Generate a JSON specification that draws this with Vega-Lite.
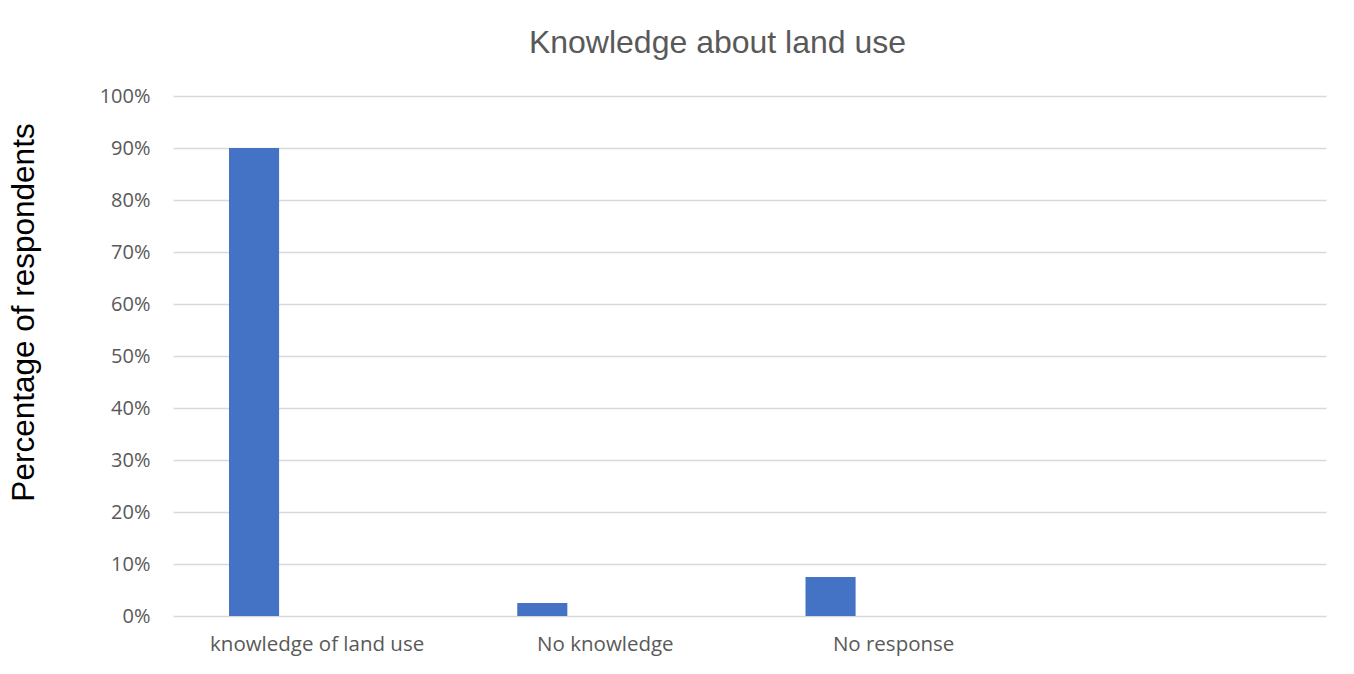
{
  "$schema": "https://vega.github.io/schema/vega-lite/v6.json",
  "width": 1153,
  "height": 520,
  "autosize": "none",
  "padding": {"left": 173, "top": 96, "right": 28, "bottom": 58},
  "background": "white",
  "title": {
    "text": "Knowledge about land use",
    "font": "Liberation Sans",
    "fontSize": 32,
    "fontWeight": "normal",
    "color": "#595959",
    "anchor": "middle",
    "frame": "group",
    "dx": -32,
    "baseline": "alphabetic",
    "offset": 1
  },
  "data": {
    "values": [
      {"category": "knowledge of land use", "series": "A", "value": 0.90},
      {"category": "No knowledge", "series": "A", "value": 0.025},
      {"category": "No response", "series": "A", "value": 0.075}
    ]
  },
  "mark": {"type": "bar", "color": "#4472C4"},
  "encoding": {
    "x": {
      "field": "category",
      "type": "nominal",
      "sort": null,
      "scale": {"domain": ["knowledge of land use", "No knowledge", "No response", ""], "paddingInner": 0, "paddingOuter": 0},
      "axis": {
        "title": null,
        "labelAngle": 0,
        "labelFont": "Open Sans",
        "labelFontSize": 20.5,
        "labelColor": "#595959",
        "labelPadding": 18,
        "labelLimit": 400,
        "ticks": false,
        "domain": false,
        "grid": false
      }
    },
    "xOffset": {
      "field": "series",
      "type": "nominal",
      "scale": {"domain": ["A", "B"], "paddingInner": 0.603, "paddingOuter": 0.444}
    },
    "y": {
      "field": "value",
      "type": "quantitative",
      "scale": {"domain": [0, 1], "nice": false},
      "axis": {
        "title": "Percentage of respondents",
        "titleFont": "Liberation Sans",
        "titleFontSize": 31.5,
        "titleFontWeight": "normal",
        "titleColor": "#000000",
        "titleAngle": -90,
        "titleX": -140,
        "titleY": 216,
        "titleAlign": "center",
        "titleBaseline": "alphabetic",
        "format": ".0%",
        "values": [0, 0.1, 0.2, 0.3, 0.4, 0.5, 0.6, 0.7, 0.8, 0.9, 1.0],
        "labelFont": "Open Sans",
        "labelFontSize": 20,
        "labelColor": "#595959",
        "labelPadding": 23,
        "ticks": false,
        "domain": false,
        "grid": true,
        "gridColor": "#d9d9d9",
        "gridWidth": 1.5
      }
    }
  },
  "config": {"view": {"stroke": null}}
}
